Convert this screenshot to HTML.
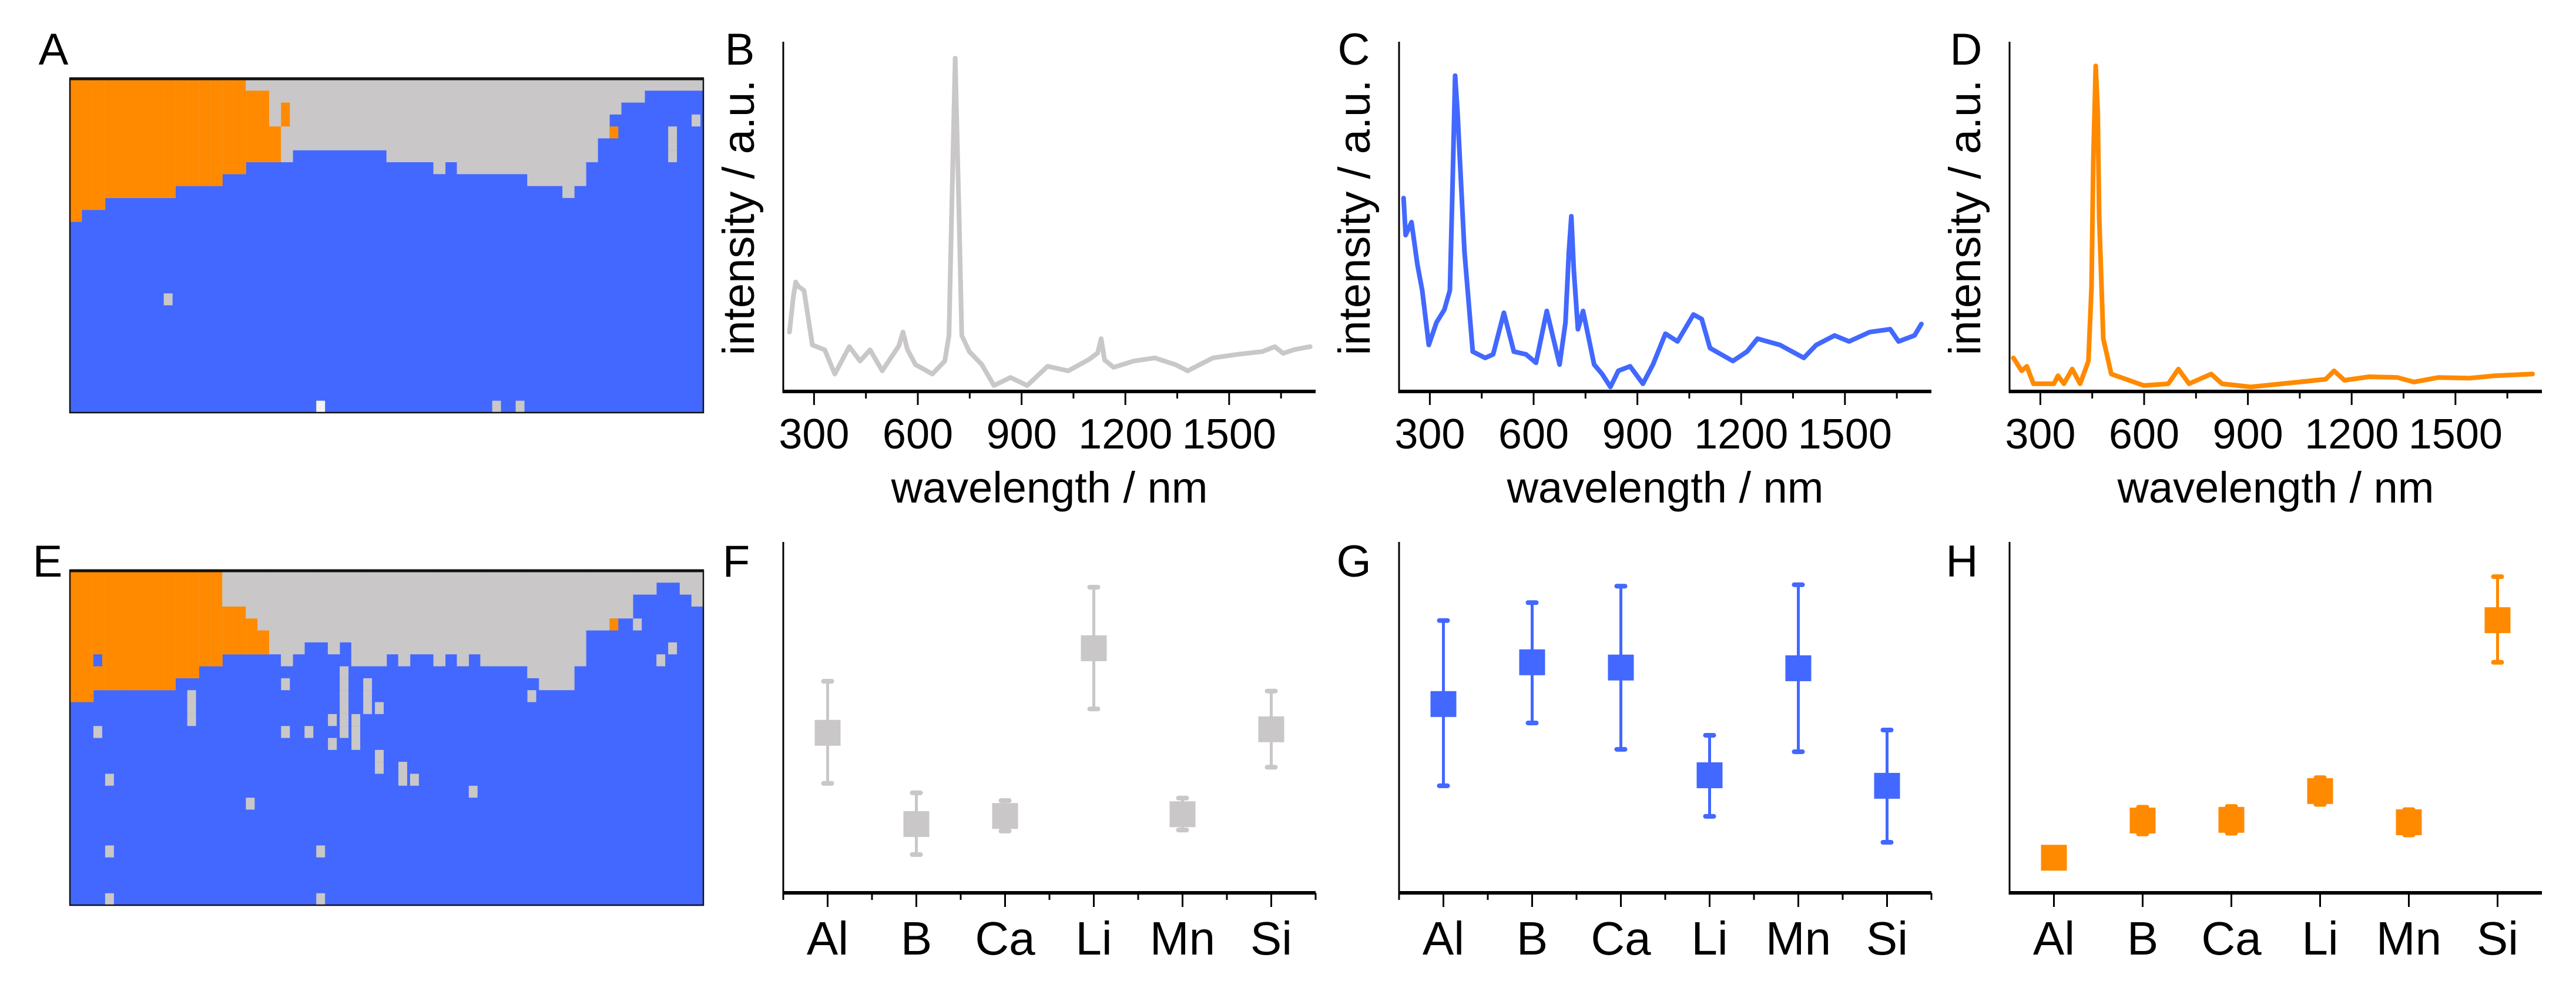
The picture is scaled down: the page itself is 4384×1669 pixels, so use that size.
<!DOCTYPE html>
<html><head><meta charset="utf-8"><style>
html,body{margin:0;padding:0;background:#fff;}
svg{display:block;font-family:"Liberation Sans",Arial,sans-serif;}
</style></head><body>
<svg id="fig" width="4384" height="1669" viewBox="0 0 4384 1669" xmlns="http://www.w3.org/2000/svg"></svg>
<script>
// ---------- spectra data ----------
const specB_nm = [229,240,247,255,271,295,331,360,402,433,462,497,545,557,570,593,642,678,690,697,708,720,727,749,785,820,868,916,975,1035,1094,1120,1130,1140,1166,1225,1285,1344,1380,1453,1524,1596,1632,1656,1690,1734];
const specB_int = [17,27,31.3,30,28.9,13.3,11.9,5,12.8,8.7,11.9,5.9,13,17,12,7.7,5,8.7,16,47.4,95.3,47.4,16,11.4,7.7,1.7,4,1.7,7.2,5.9,9.1,11,15.1,9,6.9,8.7,9.6,7.7,5.9,9.6,10.6,11.4,12.8,10.9,12,12.8];
const specC_nm = [224,230,247,264,278,297,319,342,358,366,373,380,387,400,424,460,483,514,543,578,607,638,675,692,702,709,716,728,743,775,798,822,845,879,916,945,981,1016,1062,1086,1110,1176,1217,1247,1312,1381,1417,1470,1512,1572,1631,1655,1701,1721];
const specC_int = [55.3,44.7,48.4,36.3,28.9,13.3,19.7,23.4,28.9,60,90.3,80,65.9,40,11.4,9.6,10.6,22.5,11.4,10.6,8.2,23,7.7,19.7,40,50.1,35,17.8,23,7.7,5,1.3,5.9,7.2,2.2,7.7,16.5,14.3,22,20.7,12.4,8.7,11.4,15.1,13.3,9.6,13.3,16,14.3,17,17.8,14.3,16,19.3];
const specD_nm = [222,246,261,280,339,351,368,392,415,439,448,453,460,466,470,482,505,599,670,699,730,794,825,908,1049,1125,1149,1179,1250,1332,1380,1451,1540,1616,1723];
const specD_int = [9.6,5.9,7.2,2.2,2.2,4.5,2.2,6.4,2.2,8.7,30,65.9,93.1,80,50,15.1,5,1.7,2.2,6.4,2.2,5,2.2,1.3,2.7,3.5,5.9,3.2,4.2,4,2.7,4,3.8,4.5,5];
const nmTicks = [300,600,900,1200,1500];
const nmMinor = [450,750,1050,1350,1650];

// ---------- error-bar data ----------
const elements = ["Al","B","Ca","Li","Mn","Si"];
const F_mean = [45.6,19.6,21.9,69.7,22.4,46.6];
const F_hi = [60.3,28.5,26.3,87.1,27.0,57.5];
const F_lo = [31.2,10.9,17.6,52.4,17.9,35.8];
const G_mean = [53.8,65.7,64.2,33.5,64.0,30.5];
const G_hi = [77.6,82.7,87.4,44.9,87.8,46.4];
const G_lo = [30.5,48.4,40.9,21.8,40.2,14.4];
const H_mean = [10.0,20.6,20.8,29.0,20.1,77.7];
const H_hi = [11.0,24.4,24.6,32.8,23.7,90.1];
const H_lo = [9.0,16.8,17.0,25.2,16.5,65.7];

// ---------- cluster map data ----------
const A_grayEnd = [12,11,11,10,10,10,10,10,10,9,9,9,9,8,8,7,7,7,7,6,6,6,6,6,6,6,6,7,7,7,7,8,7,8,8,8,8,8,8,9,9,9,10,9,7,5,3,2,2,1,1,1,1,1];
const A_orangeStart = [0,0,0,0,0,0,0,0,0,0,0,0,0,0,0,1,1,4,0,0,0,0,0,0,0,0,0,0,0,0,0,0,0,0,0,0,0,0,0,0,0,0,0,0,0,0,0,0,0,0,0,0,0,0];
const A_orangeEnd = [12,11,11,10,10,10,10,10,10,9,9,9,9,8,8,7,7,7,0,0,0,0,0,0,0,0,0,0,0,0,0,0,0,0,0,0,0,0,0,0,0,0,0,0,0,0,0,0,0,0,0,0,0,0];
const A_speckCol = [8,21,36,38,51,51,51,53,18,18,46];
const A_speckRow = [18,27,27,27,4,5,6,3,2,3,4];
const A_speckCls = ["g","w","g","g","g","g","g","g","o","o","o"];
const E_grayEnd = [11,11,10,10,10,10,10,10,10,9,9,8,8,7,7,7,7,7,8,7,6,6,7,6,8,8,8,7,8,7,7,8,7,8,7,8,8,8,8,9,10,10,10,8,5,5,4,4,2,2,1,1,2,3];
const E_orangeStart = [0,0,0,0,0,0,0,0,0,0,0,0,0,3,3,4,5,0,0,0,0,0,0,0,0,0,0,0,0,0,0,0,0,0,0,0,0,0,0,0,0,0,0,0,0,0,0,0,0,0,0,0,0,0];
const E_orangeEnd = [11,11,10,10,10,10,10,10,10,9,9,8,8,7,7,7,7,0,0,0,0,0,0,0,0,0,0,0,0,0,0,0,0,0,0,0,0,0,0,0,0,0,0,0,0,0,0,0,0,0,0,0,0,0];
const E_speckCol = [23,23,25,25,26,24,23,24,22,20,28,29,26,26,28,18,10,10,10,2,3,15,34,3,21,21,3,39,23,23,25,18,48,50,51,46,2,22,24,23];
const E_speckRow = [10,11,10,11,11,12,13,14,14,13,16,17,15,16,17,13,10,11,12,13,17,19,18,23,23,27,27,10,8,9,9,9,4,7,6,4,7,12,13,12];
const E_speckCls = ["g","g","g","g","g","g","g","g","g","g","g","g","g","g","g","g","g","g","g","g","g","g","g","g","g","g","g","g","g","g","g","g","g","g","g","o","b","g","g","g"];

const COL = {gray:"#c9c7c7", blue:"#4268ff", orange:"#ff8a00"};
const svg = document.getElementById('fig');
const NS = "http://www.w3.org/2000/svg";
function mk(tag, attrs, parent){const e=document.createElementNS(NS,tag);for(const k in attrs)e.setAttribute(k,attrs[k]);(parent||svg).appendChild(e);return e;}
function txt(s, attrs, parent){const e=mk('text',attrs,parent);e.textContent=s;return e;}

const letters=[["A",91,110],["B",1259,110],["C",2304,110],["D",3346,110],["E",81,981],["F",1253,981],["G",2304,981],["H",3339,981]];
letters.forEach(l=>{
  const t=txt(l[0],{x:l[1],y:l[2],'font-size':76,'text-anchor':'middle',fill:'#000'});
  
  
});

function clusterMap(name,x0,y0,w,h,grayEnd,oStart,oEnd,sc,sr,scls){
  const g=mk('g',{});
  
  
  const ncol=grayEnd.length, nrow=28, cw=w/ncol, rh=h/nrow;
  const bg=mk('rect',{x:x0,y:y0,width:w,height:h,fill:COL.blue},g);
  
  
  for(let c=0;c<ncol;c++){
    if(grayEnd[c]>0){
      const r=mk('rect',{x:x0+c*cw-0.3,y:y0,width:cw+0.6,height:grayEnd[c]*rh,fill:COL.gray},g);
      
      
    }
    if(oEnd[c]>oStart[c]){
      const r=mk('rect',{x:x0+c*cw-0.3,y:y0+oStart[c]*rh,width:cw+0.6,height:(oEnd[c]-oStart[c])*rh,fill:COL.orange},g);
      
      
    }
  }
  for(let i=0;i<sc.length;i++){
    const f=scls[i]==="o"?COL.orange:scls[i]==="b"?COL.blue:scls[i]==="w"?"#f2f2f2":COL.gray;
    const r=mk('rect',{x:x0+sc[i]*cw,y:y0+sr[i]*rh,width:cw*0.75,height:rh,fill:f},g);
    
    
  }
  mk('rect',{x:x0,y:y0,width:w,height:h,fill:'none',stroke:'#111','stroke-width':2.5},g);
  mk('line',{x1:x0-1,y1:y0,x2:x0+w+1,y2:y0,stroke:'#111','stroke-width':5},g);
}
clusterMap('cluster-map-a',119,134,1078,568,A_grayEnd,A_orangeStart,A_orangeEnd,A_speckCol,A_speckRow,A_speckCls);
clusterMap('cluster-map-e',119,971,1078,569,E_grayEnd,E_orangeStart,E_orangeEnd,E_speckCol,E_speckRow,E_speckCls);

function spectrum(name,ax,color,nm,val){
  const g=mk('g',{});
  
  
  const W=906, y0=666, yTop=71, n0=211, n1=1750;
  const xs=v=>ax+(v-n0)/(n1-n0)*W;
  const ys=v=>y0-v/100*(y0-yTop);
  const ya=mk('line',{x1:ax,y1:yTop,x2:ax,y2:y0,stroke:'#000','stroke-width':3},g);
  
  
  const xa=mk('line',{x1:ax-1.5,y1:y0,x2:ax+W,y2:y0,stroke:'#000','stroke-width':6},g);
  
  
  nmTicks.forEach(t=>{
    mk('line',{x1:xs(t),y1:y0,x2:xs(t),y2:y0+23,stroke:'#000','stroke-width':3},g);
    const l=txt(String(t),{x:xs(t),y:763,'font-size':72,'text-anchor':'middle'},g);
    
    
  });
  nmMinor.forEach(t=>{mk('line',{x1:xs(t),y1:y0,x2:xs(t),y2:y0+12,stroke:'#000','stroke-width':3},g);});
  const xl=txt('wavelength / nm',{x:ax+W/2,y:855,'font-size':74,'text-anchor':'middle'},g);
  
  
  const yl=txt('intensity / a.u.',{x:0,y:0,'font-size':76,'text-anchor':'middle',transform:`translate(${ax-50},370) rotate(-90)`},g);
  
  
  const d=nm.map((v,i)=>(i?'L':'M')+xs(v).toFixed(1)+','+ys(val[i]).toFixed(1)).join(' ');
  const p=mk('path',{d:d,fill:'none',stroke:color,'stroke-width':8,'stroke-linejoin':'round','stroke-linecap':'round'},g);
  
  
}
spectrum('spectrum-panel-b',1333,COL.gray,specB_nm,specB_int);
spectrum('spectrum-panel-c',2381,COL.blue,specC_nm,specC_int);
spectrum('spectrum-panel-d',3420,COL.orange,specD_nm,specD_int);

function errPanel(name,ax,color,mean,hi,lo,minor){
  const g=mk('g',{});
  
  
  const W=906, y0=1519, yTop=922, step=W/elements.length;
  const xs=i=>ax+step*(i+0.5);
  const ys=v=>y0-v/100*(y0-yTop);
  const ya=mk('line',{x1:ax,y1:yTop,x2:ax,y2:y0,stroke:'#000','stroke-width':3},g);
  
  
  const xa=mk('line',{x1:ax-1.5,y1:y0,x2:ax+W,y2:y0,stroke:'#000','stroke-width':6},g);
  
  
  if(minor){for(let i=0;i<=elements.length;i++){mk('line',{x1:ax+step*i,y1:y0,x2:ax+step*i,y2:y0+12,stroke:'#000','stroke-width':3},g);}}
  elements.forEach((el,i)=>{
    mk('line',{x1:xs(i),y1:y0,x2:xs(i),y2:y0+24,stroke:'#000','stroke-width':3},g);
    const l=txt(el,{x:xs(i),y:1624,'font-size':80,'text-anchor':'middle'},g);
    
    
    const eb=mk('g',{},g);
    
    
    mk('line',{x1:xs(i),y1:ys(hi[i]),x2:xs(i),y2:ys(lo[i]),stroke:color,'stroke-width':5},eb);
    mk('rect',{x:xs(i)-11,y:ys(hi[i])-4,width:22,height:8,rx:4,fill:color},eb);
    mk('rect',{x:xs(i)-11,y:ys(lo[i])-4,width:22,height:8,rx:4,fill:color},eb);
    const m=mk('rect',{x:xs(i)-22,y:ys(mean[i])-22,width:44,height:44,fill:color},g);
    
    
  });
}
errPanel('element-panel-f',1333,COL.gray,F_mean,F_hi,F_lo,true);
errPanel('element-panel-g',2381,COL.blue,G_mean,G_hi,G_lo,true);
errPanel('element-panel-h',3420,COL.orange,H_mean,H_hi,H_lo,false);
</script>
</body></html>
